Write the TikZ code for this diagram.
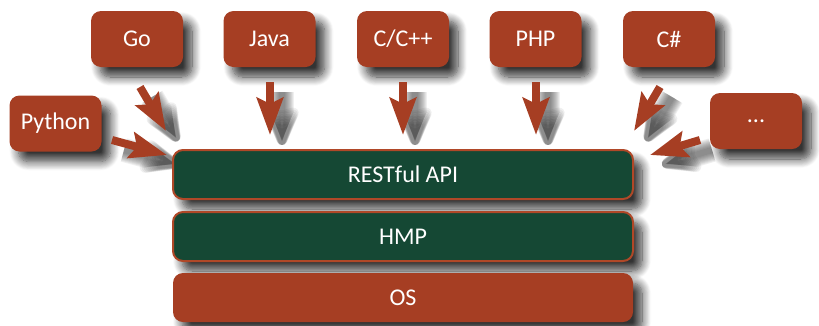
\documentclass[tikz,border=0pt]{standalone}
\usepackage{fontspec}
\setmainfont{Carlito}
\usetikzlibrary{shadows.blur,arrows.meta}
\definecolor{rust}{RGB}{166,62,35}
\definecolor{rustline}{RGB}{176,72,40}
\definecolor{pine}{RGB}{21,72,52}
\begin{document}
\begin{tikzpicture}[x=1pt,y=-1pt,
  boxshadow/.style={blur shadow={shadow xshift=9pt,shadow yshift=-10pt,shadow blur radius=9pt,shadow opacity=80,shadow blur steps=12}},
  lang/.style={fill=rust, rounded corners=10pt, text=white, inner sep=0pt,
    minimum width=92pt, minimum height=56pt, font=\fontsize{24}{28}\selectfont, boxshadow},
  layer/.style={rounded corners=10pt, text=white, inner sep=0pt,
    minimum width=460pt, minimum height=49pt, font=\fontsize{24}{28}\selectfont, boxshadow},
  arr/.style={draw=rust, line width=8pt, -{Stealth[length=37pt,width=26pt,inset=6pt]}},
]
\useasboundingbox (0,0) rectangle (819,325);
% arrow end points
\coordinate (pyS) at (112,140); \coordinate (pyE) at (167,155);
\coordinate (goS) at (140,87);  \coordinate (goE) at (166,131);
\coordinate (jvS) at (270,82);  \coordinate (jvE) at (270,135);
\coordinate (ccS) at (403,82);  \coordinate (ccE) at (403,135);
\coordinate (phS) at (536,82);  \coordinate (phE) at (536,135);
\coordinate (csS) at (660,87);  \coordinate (csE) at (634,131);
\coordinate (dtS) at (700,140); \coordinate (dtE) at (650,155);
% arrow shadows (soft)
\foreach \s/\e in {pyS/pyE,goS/goE,jvS/jvE,ccS/ccE,phS/phE,csS/csE,dtS/dtE}{
  \foreach \k in {0,2,...,18}{
    \draw[draw=black!80, opacity=0.08, line width={6pt+\k pt}, line join=round,
      -{Stealth[length={30pt+\k pt},width={20pt+\k pt},inset=4pt,round]},
      transform canvas={shift={(12pt,-10pt)}}] (\s) -- (\e);
  }
}
% nodes
\node[lang] (py) at (55.5,123.5) {Python};
\node[lang] (go) at (137,39) {Go};
\node[lang] (java) at (269.5,39) {Java};
\node[lang] (cpp) at (403,39) {C/C++};
\node[lang] (php) at (535.5,39) {PHP};
\node[lang] (cs) at (669,39) {C\#};
\node[lang] (dots) at (756,121) {...};
\node[layer, fill=pine, draw=rustline, line width=2pt] (api) at (403,174.5) {RESTful API};
\node[layer, fill=pine, draw=rustline, line width=2pt] (hmp) at (403,236.5) {HMP};
\node[layer, fill=rust] (os) at (403,297.5) {OS};
% arrows
\draw[arr] (pyS) -- (pyE);
\draw[arr] (goS) -- (goE);
\draw[arr] (jvS) -- (jvE);
\draw[arr] (ccS) -- (ccE);
\draw[arr] (phS) -- (phE);
\draw[arr] (csS) -- (csE);
\draw[arr] (dtS) -- (dtE);
\end{tikzpicture}
\end{document}
